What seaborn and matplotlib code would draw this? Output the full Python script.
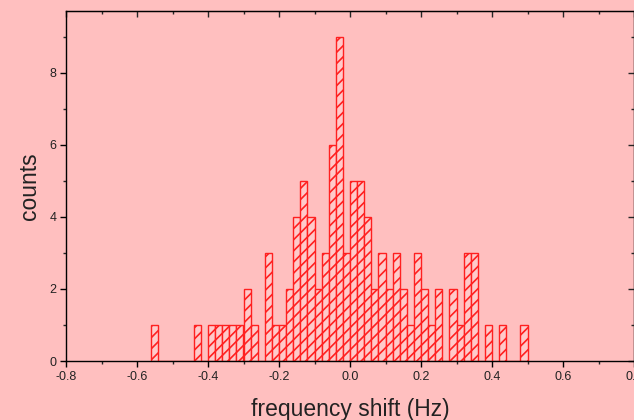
import numpy as np
import pandas as pd
import matplotlib
matplotlib.use("Agg")
import matplotlib.pyplot as plt
from matplotlib.ticker import MultipleLocator
import seaborn as sns

# Data: histogram bins (left edges, width 0.02 Hz) and counts
bin_width = 0.02
bin_left = [-0.56, -0.44, -0.40, -0.38, -0.36, -0.34, -0.32, -0.30, -0.28,
            -0.24, -0.22, -0.20, -0.18, -0.16, -0.14, -0.12, -0.10, -0.08,
            -0.06, -0.04, -0.02, 0.00, 0.02, 0.04, 0.06, 0.08, 0.10, 0.12,
            0.14, 0.16, 0.18, 0.20, 0.22, 0.24, 0.28, 0.30, 0.32, 0.34,
            0.38, 0.42, 0.48]
counts = [1, 1, 1, 1, 1, 1, 1, 2, 1,
          3, 1, 1, 2, 4, 5, 4, 2, 3,
          6, 9, 3, 5, 5, 4, 2, 3, 2, 3,
          2, 1, 3, 2, 1, 2, 2, 1, 3, 3,
          1, 1, 1]
x_ticks = [-0.8, -0.6, -0.4, -0.2, 0.0, 0.2, 0.4, 0.6, 0.8]
y_ticks = [0, 2, 4, 6, 8]
x_label = "frequency shift (Hz)"
y_label = "counts"

df = pd.DataFrame({"shift": np.array(bin_left) + bin_width / 2,
                   "n": np.array(counts, dtype=float)})
edges = [float(v) for v in np.round(np.arange(min(bin_left), max(bin_left) + bin_width * 1.5, bin_width), 4)]

BG = "#FFBFBF"
RED = "#FF2020"
TXT = "#222222"

sns.set_style("ticks")
plt.rcParams["font.family"] = ["Liberation Sans", "DejaVu Sans"]
plt.rcParams["hatch.linewidth"] = 1.2

fig = plt.figure(figsize=(6.34, 4.2), dpi=100, facecolor=BG)
ax = fig.add_axes([66 / 634, 59 / 420, 568 / 634, 350 / 420])
ax.set_facecolor(BG)

sns.histplot(data=df, x="shift", weights="n", bins=edges, ax=ax,
             stat="count", element="bars", fill=True,
             color=BG, edgecolor=RED, linewidth=1.0, alpha=1.0)
for p in ax.patches:
    p.set_hatch("///")
    p.set_facecolor("#FFCACA")
    p.set_edgecolor(RED)

ax.set_xlim(-0.8, 0.8)
ax.set_ylim(0, 9.72)
ax.set_xticks(x_ticks)
ax.set_xticklabels([f"{t:.1f}" for t in x_ticks])
ax.set_yticks(y_ticks)
ax.xaxis.set_minor_locator(MultipleLocator(0.1))
ax.yaxis.set_minor_locator(MultipleLocator(1))
ax.tick_params(axis="both", which="major", direction="out", length=4,
               width=1, labelsize=9, colors="black", labelcolor=TXT, pad=3)
ax.tick_params(axis="both", which="minor", direction="out", length=2.5, width=1)
for s in ax.spines.values():
    s.set_visible(True)
    s.set_linewidth(1.0)
    s.set_color("black")

top = ax.secondary_xaxis("top")
top.set_xticks(x_ticks)
top.xaxis.set_minor_locator(MultipleLocator(0.1))
top.tick_params(which="both", direction="in", labeltop=False, width=1)
top.tick_params(which="major", length=4)
top.tick_params(which="minor", length=2.5)
right = ax.secondary_yaxis("right")
right.set_yticks(y_ticks)
right.yaxis.set_minor_locator(MultipleLocator(1))
right.tick_params(which="both", direction="in", labelright=False, width=1)
right.tick_params(which="major", length=4)
right.tick_params(which="minor", length=2.5)

ax.set_xlabel(x_label, fontsize=16.5, labelpad=11, color=TXT)
ax.set_ylabel(y_label, fontsize=16.5, labelpad=6, color=TXT)

fig.savefig("out.png", dpi=100, facecolor=BG)
